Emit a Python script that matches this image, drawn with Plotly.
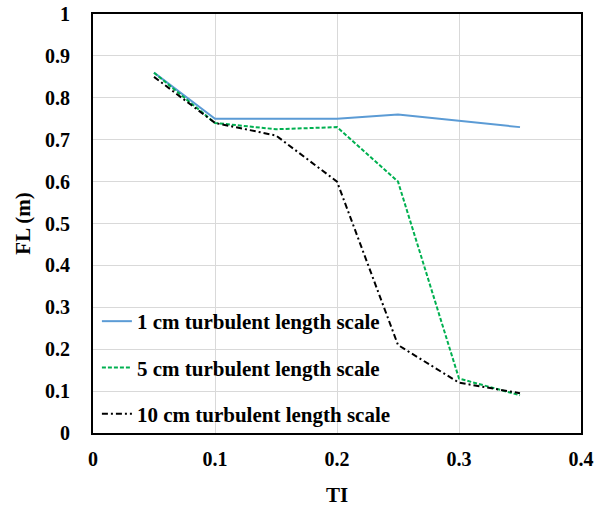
import plotly.graph_objects as go

TI = [0.05, 0.1, 0.15, 0.2, 0.25, 0.3, 0.35]
fl_1cm = [0.86, 0.75, 0.75, 0.75, 0.76, 0.745, 0.73]
fl_5cm = [0.86, 0.74, 0.725, 0.73, 0.60, 0.13, 0.09]
fl_10cm = [0.85, 0.74, 0.71, 0.60, 0.21, 0.12, 0.095]
names = ["1 cm turbulent length scale", "5 cm turbulent length scale", "10 cm turbulent length scale"]

FONT = "Liberation Serif, Times New Roman, serif"

fig = go.Figure()
fig.add_trace(go.Scatter(x=TI, y=fl_1cm, mode="lines", name=names[0], legendgroup="a",
                         line=dict(color="#5b9bd5", width=2)))
fig.add_trace(go.Scatter(x=TI, y=fl_5cm, mode="lines", name=names[1], legendgroup="b",
                         line=dict(color="#00b050", width=2, dash="4px,2px")))
fig.add_trace(go.Scatter(x=TI, y=fl_10cm, mode="lines", name=names[2], legendgroup="c",
                         line=dict(color="#000000", width=2, dash="6px,3px,2px,3px")))

fig.update_layout(
    width=605, height=507,
    margin=dict(l=93, r=24, t=14, b=74),
    paper_bgcolor="white", plot_bgcolor="white",
    font=dict(family=FONT, size=20, color="black", weight="bold"),
    showlegend=True,
    legend=dict(x=0.008, y=0.315, xanchor="left", yanchor="top",
                bgcolor="rgba(0,0,0,0)", tracegroupgap=16,
                font=dict(family=FONT, size=21, color="black", weight="bold")),
)
fig.update_xaxes(range=[0, 0.4], dtick=0.1, showgrid=True, gridcolor="#d9d9d9",
                 gridwidth=1, zeroline=False, showline=True, linecolor="black", linewidth=2,
                 mirror=True, ticks="", ticklabelstandoff=7, automargin=False,
                 ticklabeloverflow="allow",
                 tickfont=dict(family=FONT, size=20, weight="bold"),
                 title=dict(text="TI", standoff=39, font=dict(family=FONT, size=21, weight="bold")))
fig.update_yaxes(range=[0, 1], dtick=0.1, showgrid=True, gridcolor="#d9d9d9",
                 gridwidth=1, zeroline=False, showline=True, linecolor="black", linewidth=2,
                 mirror=True, ticks="", ticklabelstandoff=17, automargin=False,
                 ticklabeloverflow="allow",
                 tickfont=dict(family=FONT, size=20, weight="bold"),
                 title=dict(text="FL (m)", standoff=9, font=dict(family=FONT, size=21, weight="bold")))

# remove the browser's default 8px body margin so the figure fills the window exactly
fig.write_html("out.html", config={"displayModeBar": False},
               post_script="document.body.style.margin='0';")
